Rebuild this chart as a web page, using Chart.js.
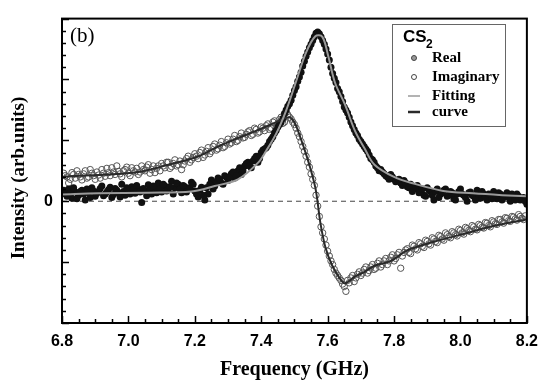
<!DOCTYPE html>
<html>
<head>
<meta charset="utf-8">
<script src="https://cdn.jsdelivr.net/npm/chart.js@4"></script>
<style>
  html, body { margin: 0; padding: 0; background: #fff; }
  #wrap { width: 547px; height: 384px; position: relative; }
</style>
</head>
<body>
<div id="wrap"><canvas id="spectrum"></canvas></div>
<script>
// axis range (GHz / arb. units)
const freqMin = 6.8, freqMax = 8.2;
const intensityMin = -2, intensityMax = 3;
const freqTickLabels = ['6.8', '7.0', '7.2', '7.4', '7.6', '7.8', '8.0', '8.2'];

const realPoints = [
  [6.81,0.12],[6.82,0.20],[6.83,0.05],[6.84,0.15],[6.85,0.10],[6.86,0.18],[6.87,0.02],[6.88,0.14],
  [6.89,0.22],[6.90,0.08],[6.91,0.16],[6.92,0.25],[6.93,0.12],[6.94,0.19],[6.95,0.06],[6.96,0.21],
  [6.97,0.14],[6.98,0.28],[6.99,0.10],[7.00,0.18],[7.01,0.24],[7.02,0.13],[7.03,0.20],[7.04,-0.02],
  [7.05,0.17],[7.06,0.27],[7.07,0.12],[7.08,0.22],[7.09,0.30],[7.10,0.15],[7.11,0.25],[7.12,0.19],
  [7.13,0.33],[7.14,0.22],[7.15,0.28],[7.16,0.14],[7.17,0.24],[7.18,0.20],[7.19,0.31],[7.20,0.17],
  [7.21,0.07],[7.22,0.23],[7.23,0.02],[7.24,0.12],[7.25,0.35],[7.26,0.25],[7.27,0.38],[7.28,0.30],
  [7.29,0.42],[7.30,0.34],[7.31,0.45],[7.32,0.38],[7.33,0.50],[7.34,0.44],[7.35,0.58],[7.36,0.64],
  [7.37,0.55],[7.38,0.70],[7.39,0.64],[7.40,0.80],[7.41,0.86],[7.42,0.92],[7.43,1.02],[7.44,1.12],
  [7.45,1.22],[7.46,1.30],[7.47,1.44],[7.48,1.56],[7.49,1.66],[7.50,1.82],[7.51,1.97],[7.52,2.12],
  [7.53,2.30],[7.54,2.45],[7.55,2.58],[7.56,2.70],[7.565,2.76],[7.57,2.78],[7.575,2.75],[7.58,2.70],
  [7.59,2.58],[7.60,2.42],[7.61,2.20],[7.62,2.02],[7.63,1.85],[7.64,1.72],[7.65,1.55],[7.66,1.45],
  [7.67,1.30],[7.68,1.18],[7.69,1.08],[7.70,0.98],[7.71,0.90],[7.72,0.82],[7.73,0.70],[7.74,0.64],
  [7.75,0.55],[7.76,0.52],[7.77,0.45],[7.78,0.40],[7.79,0.44],[7.80,0.36],[7.82,0.30],[7.83,0.34],
  [7.84,0.24],[7.85,0.28],[7.86,0.20],[7.87,0.26],[7.88,0.18],[7.89,0.10],[7.90,0.22],[7.91,0.16],
  [7.92,0.02],[7.93,0.20],[7.94,0.12],[7.95,0.18],[7.96,0.08],[7.97,0.16],[7.98,0.04],[7.99,0.12],
  [8.00,0.20],[8.01,0.10],[8.02,0.00],[8.03,0.15],[8.04,0.08],[8.05,0.18],[8.06,0.05],[8.07,0.12],
  [8.08,0.02],[8.09,0.10],[8.10,0.16],[8.11,0.04],[8.12,0.12],[8.13,0.06],[8.14,0.14],[8.15,0.00],
  [8.16,0.08],[8.17,0.12],[8.18,0.02],[8.19,0.06],[8.20,-0.05],
  [6.805,0.18],[6.815,0.08],[6.825,0.14],[6.835,0.22],[6.845,0.04],[6.855,0.16],[6.865,0.12],[6.875,0.20],
  [6.885,0.06],[6.895,0.17],[6.905,0.13],[6.915,0.21],[6.925,0.09],[6.935,0.15],[6.945,0.23],[6.955,0.11],
  [6.965,0.18],[6.975,0.07],[6.985,0.16],[6.995,0.22],[7.005,0.12],[7.015,0.19],[7.025,0.26],[7.035,0.15],
  [7.045,0.21],[7.055,0.09],[7.065,0.18],[7.075,0.25],[7.085,0.14],[7.095,0.20],[7.105,0.28],[7.115,0.17],
  [7.125,0.24],[7.135,0.12],[7.145,0.30],[7.155,0.20],[7.165,0.26],[7.175,0.15],[7.185,0.22],[7.195,0.28],
  [7.205,0.12],[7.215,0.18],[7.225,0.10],[7.235,0.22],[7.245,0.28],[7.255,0.20],[7.265,0.32],[7.275,0.36],
  [7.285,0.28],[7.295,0.40],[7.305,0.40],[7.315,0.48],[7.325,0.42],[7.335,0.55],[7.345,0.50],[7.355,0.62],
  [7.365,0.58],[7.375,0.66],[7.385,0.74],[7.395,0.70],[7.405,0.84],[7.415,0.88],[7.425,0.98],[7.435,1.06],
  [7.445,1.16],[7.455,1.26],[7.465,1.36],[7.475,1.50],[7.485,1.60],[7.495,1.74],[7.505,1.88],[7.515,2.04],
  [7.525,2.22],[7.535,2.38],[7.545,2.52],[7.555,2.64],[7.585,2.64],[7.595,2.50],[7.605,2.32],[7.615,2.10],
  [7.625,1.95],[7.635,1.80],[7.645,1.64],[7.655,1.50],[7.665,1.38],[7.675,1.24],[7.685,1.12],[7.695,1.02],
  [7.705,0.94],[7.715,0.86],[7.725,0.76],[7.735,0.68],[7.745,0.58],[7.755,0.50],[7.765,0.48],[7.775,0.42],
  [7.785,0.36],[7.795,0.40],[7.805,0.32],[7.815,0.36],[7.825,0.26],[7.835,0.30],[7.845,0.22],[7.855,0.16],
  [7.865,0.24],[7.875,0.14],[7.885,0.20],[7.895,0.08],[7.905,0.18],[7.915,0.10],[7.925,0.16],[7.935,0.06],
  [7.945,0.14],[7.955,0.20],[7.965,0.10],[7.975,0.14],[7.985,0.02],[7.995,0.16],[8.005,0.12],[8.015,0.06],
  [8.025,0.14],[8.035,0.10],[8.045,0.02],[8.055,0.12],[8.065,0.16],[8.075,0.06],[8.085,0.12],[8.095,0.04],
  [8.105,0.10],[8.115,0.14],[8.125,0.02],[8.135,0.10],[8.145,0.06],[8.155,0.12],[8.165,0.02],[8.175,0.08],
  [8.185,0.04],[8.195,0.00]
];

const imagPoints = [
  [6.81,0.42],[6.82,0.30],[6.83,0.47],[6.84,0.38],[6.85,0.44],[6.86,0.35],[6.87,0.50],[6.88,0.40],
  [6.89,0.46],[6.90,0.36],[6.91,0.43],[6.92,0.52],[6.93,0.41],[6.94,0.47],[6.95,0.55],[6.96,0.44],
  [6.97,0.49],[6.98,0.40],[6.99,0.52],[7.00,0.46],[7.01,0.55],[7.02,0.48],[7.03,0.44],[7.04,0.58],
  [7.05,0.50],[7.06,0.60],[7.07,0.52],[7.08,0.47],[7.09,0.58],[7.10,0.62],[7.11,0.55],[7.12,0.64],
  [7.13,0.57],[7.14,0.68],[7.15,0.60],[7.16,0.52],[7.17,0.66],[7.18,0.74],[7.19,0.68],[7.20,0.78],
  [7.21,0.70],[7.22,0.84],[7.23,0.76],[7.24,0.88],[7.25,0.82],[7.26,0.94],[7.27,0.86],[7.28,0.98],
  [7.29,0.90],[7.30,1.02],[7.31,0.96],[7.32,1.08],[7.33,1.00],[7.34,1.12],[7.35,1.05],[7.36,1.14],
  [7.37,1.08],[7.38,1.20],[7.39,1.12],[7.40,1.22],[7.41,1.16],[7.42,1.27],[7.43,1.20],[7.44,1.32],
  [7.45,1.25],[7.46,1.38],[7.47,1.30],[7.48,1.42],[7.49,1.35],[7.50,1.26],[7.51,1.12],[7.52,0.98],
  [7.53,0.82],[7.54,0.64],[7.55,0.45],[7.56,0.26],[7.565,0.10],[7.57,-0.08],[7.575,-0.25],[7.58,-0.42],
  [7.59,-0.62],[7.60,-0.82],[7.61,-0.98],[7.62,-1.12],[7.63,-1.22],[7.64,-1.30],[7.645,-1.36],[7.65,-1.40],
  [7.655,-1.48],[7.66,-1.30],[7.67,-1.26],[7.68,-1.32],[7.69,-1.20],[7.70,-1.22],[7.71,-1.12],[7.72,-1.18],
  [7.73,-1.08],[7.74,-1.12],[7.75,-1.02],[7.76,-1.08],[7.77,-0.98],[7.78,-1.04],[7.79,-0.92],[7.80,-0.98],
  [7.81,-0.88],[7.82,-1.10],[7.83,-0.84],[7.84,-0.78],[7.85,-0.86],[7.86,-0.74],[7.87,-0.80],[7.88,-0.70],
  [7.89,-0.76],[7.90,-0.66],[7.91,-0.72],[7.92,-0.62],[7.93,-0.68],[7.94,-0.58],[7.95,-0.64],[7.96,-0.55],
  [7.97,-0.60],[7.98,-0.52],[7.99,-0.57],[8.00,-0.48],[8.01,-0.54],[8.02,-0.45],[8.03,-0.50],[8.04,-0.42],
  [8.05,-0.47],[8.06,-0.40],[8.07,-0.44],[8.08,-0.36],[8.09,-0.42],[8.10,-0.34],[8.11,-0.38],[8.12,-0.30],
  [8.13,-0.36],[8.14,-0.28],[8.15,-0.33],[8.16,-0.26],[8.17,-0.31],[8.18,-0.25],[8.19,-0.30],
  [6.805,0.46],[6.815,0.40],[6.825,0.36],[6.835,0.44],[6.845,0.50],[6.855,0.40],[6.865,0.45],[6.875,0.38],
  [6.885,0.52],[6.895,0.42],[6.905,0.48],[6.915,0.38],[6.925,0.46],[6.935,0.54],[6.945,0.42],[6.955,0.48],
  [6.965,0.58],[6.975,0.45],[6.985,0.50],[6.995,0.56],[7.005,0.42],[7.015,0.50],[7.025,0.54],[7.035,0.48],
  [7.045,0.52],[7.055,0.56],[7.065,0.46],[7.075,0.58],[7.085,0.54],[7.095,0.50],[7.105,0.58],[7.115,0.64],
  [7.125,0.54],[7.135,0.62],[7.145,0.58],[7.155,0.66],[7.165,0.60],[7.175,0.70],[7.185,0.64],[7.195,0.72],
  [7.205,0.74],[7.215,0.80],[7.225,0.72],[7.235,0.82],[7.245,0.78],[7.255,0.90],[7.265,0.84],[7.275,0.92],
  [7.285,0.88],[7.295,0.96],[7.305,0.94],[7.315,1.02],[7.325,0.98],[7.335,1.06],[7.345,1.04],[7.355,1.10],
  [7.365,1.16],[7.375,1.10],[7.385,1.18],[7.395,1.14],[7.405,1.20],[7.415,1.24],[7.425,1.18],[7.435,1.30],
  [7.445,1.22],[7.455,1.34],[7.465,1.28],[7.475,1.46],[7.485,1.38],[7.495,1.30],[7.505,1.20],[7.515,1.06],
  [7.525,0.90],[7.535,0.74],[7.545,0.56],[7.555,0.36],[7.585,-0.52],[7.595,-0.72],[7.605,-0.90],[7.615,-1.04],
  [7.625,-1.18],[7.635,-1.26],[7.665,-1.34],[7.675,-1.22],[7.685,-1.26],[7.695,-1.16],[7.705,-1.18],[7.715,-1.08],
  [7.725,-1.14],[7.735,-1.04],[7.745,-1.10],[7.755,-0.98],[7.765,-1.04],[7.775,-0.94],[7.785,-0.98],[7.795,-0.88],
  [7.805,-0.94],[7.815,-0.84],[7.825,-0.90],[7.835,-0.80],[7.845,-0.84],[7.855,-0.72],[7.865,-0.78],[7.875,-0.68],
  [7.885,-0.74],[7.895,-0.64],[7.905,-0.70],[7.915,-0.60],[7.925,-0.66],[7.935,-0.56],[7.945,-0.62],[7.955,-0.52],
  [7.965,-0.58],[7.975,-0.50],[7.985,-0.55],[7.995,-0.46],[8.005,-0.52],[8.015,-0.43],[8.025,-0.48],[8.035,-0.40],
  [8.045,-0.46],[8.055,-0.38],[8.065,-0.43],[8.075,-0.35],[8.085,-0.40],[8.095,-0.32],[8.105,-0.37],[8.115,-0.30],
  [8.125,-0.34],[8.135,-0.27],[8.145,-0.32],[8.155,-0.25],[8.165,-0.29],[8.175,-0.22],[8.185,-0.28],[8.195,-0.24]
];

// fitted curves
const realFit = [
  [6.80,0.11],[6.91,0.13],[7.06,0.14],[7.19,0.16],[7.26,0.25],[7.33,0.36],[7.39,0.63],[7.415,0.83],
  [7.445,1.11],[7.475,1.49],[7.504,1.95],[7.534,2.43],[7.563,2.71],[7.584,2.70],[7.602,2.38],
  [7.622,1.95],[7.652,1.59],[7.682,1.16],[7.711,0.87],[7.741,0.60],[7.80,0.40],[7.859,0.29],
  [7.948,0.17],[8.037,0.13],[8.125,0.10],[8.20,0.08]
];

const imagFit = [
  [6.80,0.40],[6.824,0.41],[6.942,0.44],[7.04,0.49],[7.12,0.60],[7.208,0.73],[7.267,0.89],[7.327,1.03],
  [7.386,1.16],[7.445,1.30],[7.475,1.37],[7.489,1.37],[7.504,1.25],[7.519,1.03],[7.534,0.79],
  [7.549,0.52],[7.563,0.22],[7.569,0.02],[7.578,-0.35],[7.593,-0.75],[7.614,-1.06],[7.637,-1.27],
  [7.652,-1.35],[7.682,-1.24],[7.711,-1.16],[7.741,-1.06],[7.791,-0.98],[7.838,-0.81],[7.918,-0.67],
  [8.007,-0.54],[8.105,-0.40],[8.20,-0.30]
];

const toXY = pts => pts.map(p => ({ x: p[0], y: p[1] }));

// frame, inward ticks, zero line, labels and in-plot legend
const figureDecor = {
  id: 'figureDecor',
  beforeDatasetsDraw(chart) {
    const { ctx, chartArea: a, scales: { y } } = chart;
    const y0 = y.getPixelForValue(0);
    ctx.save();
    ctx.strokeStyle = '#444';
    ctx.lineWidth = 1;
    ctx.setLineDash([5, 4]);
    ctx.beginPath();
    ctx.moveTo(a.left, y0);
    ctx.lineTo(a.right, y0);
    ctx.stroke();
    ctx.restore();
  },
  afterDatasetsDraw(chart) {
    const { ctx, chartArea: a, scales: { x, y } } = chart;
    ctx.save();

    // frame
    ctx.strokeStyle = '#000';
    ctx.lineWidth = 2;
    ctx.strokeRect(a.left, a.top, a.right - a.left, a.bottom - a.top);

    // x ticks (inward from bottom)
    ctx.lineWidth = 1.5;
    ctx.beginPath();
    for (let i = 0; i <= 28; i++) {
      const v = freqMin + i * 0.05;
      const px = Math.round(x.getPixelForValue(v)) + 0.5;
      const len = i % 4 === 0 ? 7 : 4;
      ctx.moveTo(px, a.bottom);
      ctx.lineTo(px, a.bottom - len);
    }
    // y ticks (inward from left)
    for (let i = 0; i <= 25; i++) {
      const v = intensityMin + i * 0.2;
      const py = Math.round(y.getPixelForValue(v)) + 0.5;
      const len = i % 5 === 0 ? 7 : 4;
      ctx.moveTo(a.left, py);
      ctx.lineTo(a.left + len, py);
    }
    ctx.stroke();

    // panel label
    ctx.fillStyle = '#000';
    ctx.font = '21px "Liberation Serif"';
    ctx.textAlign = 'left';
    ctx.textBaseline = 'middle';
    ctx.fillText('(b)', a.left + 8, a.top + 18);

    // y axis title
    ctx.save();
    ctx.translate(19, 178);
    ctx.rotate(-Math.PI / 2);
    ctx.font = 'bold 19px "Liberation Serif"';
    ctx.textAlign = 'center';
    ctx.fillText('Intensity (arb.units)', 0, 0);
    ctx.restore();

    // legend box
    const bx = 392, by = 24, bw = 113, bh = 102;
    ctx.fillStyle = '#fff';
    ctx.fillRect(bx, by, bw, bh);
    ctx.strokeStyle = '#666';
    ctx.lineWidth = 1;
    ctx.strokeRect(bx + 0.5, by + 0.5, bw, bh);

    ctx.fillStyle = '#000';
    ctx.textBaseline = 'alphabetic';
    ctx.font = 'bold 17px "Liberation Sans"';
    ctx.fillText('CS', 403, 42);
    ctx.font = 'bold 12px "Liberation Sans"';
    ctx.fillText('2', 426, 48);

    const rowY = [58, 77, 96, 112];
    ctx.font = 'bold 15px "Liberation Serif"';
    ctx.textBaseline = 'middle';
    chart.data.datasets.forEach((ds, i) => {
      const ry = rowY[i];
      if (ds.showLine) {
        ctx.strokeStyle = ds.borderColor;
        ctx.lineWidth = i === 2 ? 1.5 : 2.5;
        ctx.beginPath();
        ctx.moveTo(408, ry);
        ctx.lineTo(420, ry);
        ctx.stroke();
      } else {
        ctx.beginPath();
        ctx.arc(414, ry, 2.5, 0, Math.PI * 2);
        ctx.fillStyle = i === 0 ? '#999' : '#fff';
        ctx.fill();
        ctx.strokeStyle = '#444';
        ctx.lineWidth = 1;
        ctx.stroke();
      }
      ctx.fillStyle = '#000';
      ctx.fillText(ds.label, 432, ry);
    });

    ctx.restore();
  }
};

new Chart(document.getElementById('spectrum'), {
  type: 'scatter',
  data: {
    datasets: [
      {
        label: 'Real',
        data: toXY(realPoints),
        pointRadius: 3.5,
        pointBackgroundColor: '#111',
        pointBorderColor: '#111',
        pointBorderWidth: 0,
        order: 3
      },
      {
        label: 'Imaginary',
        data: toXY(imagPoints),
        pointRadius: 3.2,
        pointBackgroundColor: 'rgba(255,255,255,0)',
        pointBorderColor: '#555',
        pointBorderWidth: 1,
        order: 4
      },
      {
        label: 'Fitting',
        data: toXY(realFit),
        showLine: true,
        borderColor: '#9a9a9a',
        borderWidth: 2,
        pointRadius: 0,
        tension: 0.35,
        order: 1
      },
      {
        label: 'curve',
        data: toXY(imagFit),
        showLine: true,
        borderColor: '#2a2a2a',
        borderWidth: 2,
        pointRadius: 0,
        tension: 0.3,
        order: 2
      }
    ]
  },
  options: {
    responsive: true,
    maintainAspectRatio: false,
    animation: false,
    layout: { padding: { top: 8, right: 12, left: 0, bottom: 0 } },
    plugins: {
      legend: { display: false },
      tooltip: { enabled: false }
    },
    scales: {
      x: {
        type: 'linear',
        min: freqMin,
        max: freqMax,
        grid: { display: false, drawTicks: false },
        border: { display: false },
        afterFit: s => { s.height = 61; },
        afterBuildTicks: s => {
          s.ticks = freqTickLabels.map(t => ({ value: parseFloat(t) }));
        },
        ticks: {
          padding: 9,
          color: '#000',
          font: { family: 'Liberation Sans', size: 16, weight: 'bold' },
          callback: v => v.toFixed(1)
        },
        title: {
          display: true,
          text: 'Frequency (GHz)',
          color: '#000',
          padding: { top: 0, bottom: 2 },
          font: { family: 'Liberation Serif', size: 20, weight: 'bold' }
        }
      },
      y: {
        min: intensityMin,
        max: intensityMax,
        grid: { display: false, drawTicks: false },
        border: { display: false },
        afterFit: s => { s.width = 62; },
        ticks: {
          stepSize: 1,
          padding: 9,
          color: '#000',
          font: { family: 'Liberation Sans', size: 16, weight: 'bold' },
          callback: v => (v === 0 ? '0' : '')
        }
      }
    }
  },
  plugins: [figureDecor]
});
</script>
</body>
</html>
